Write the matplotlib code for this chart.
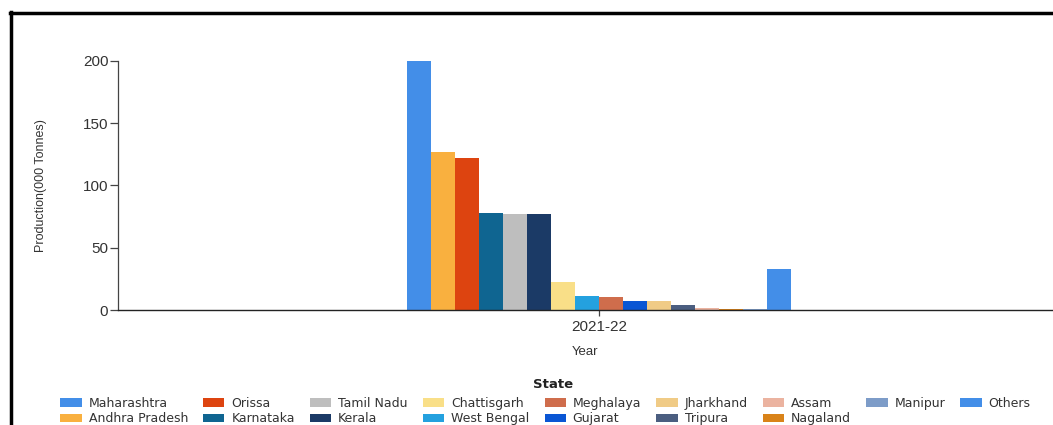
import matplotlib.pyplot as plt
from matplotlib.lines import Line2D
import numpy as np

year = "2021-22"
states = ["Maharashtra", "Andhra Pradesh", "Orissa", "Karnataka", "Tamil Nadu",
          "Kerala", "Chattisgarh", "West Bengal", "Meghalaya", "Gujarat",
          "Jharkhand", "Tripura", "Assam", "Nagaland", "Manipur", "Others"]
production = [200, 127, 122, 78, 77, 77, 22.5, 11.5, 10.5, 7.2, 7, 4,
              1.5, 1, 0.6, 33]
colors = ["#438ee8", "#f9b03f", "#dd4410", "#0f6591", "#bebebe", "#1b3a66",
          "#f9df88", "#24a1df", "#cf6d4c", "#0a56d4", "#f0cb86", "#4b5e80",
          "#ebb3a0", "#d98319", "#7d9cc8", "#438ee8"]

fig = plt.figure(figsize=(10.53, 4.25), dpi=100)
ax = fig.add_axes([118 / 1053, 1 - 310 / 425, 1 - 118 / 1053, (310 - 61) / 425])

w = 1.0
n = len(states)
for i, (s, v, c) in enumerate(zip(states, production, colors)):
    ax.bar((i - (n - 1) / 2) * w, v, width=w, color=c, label=s, clip_on=False)

ax.set_ylim(0, 200)
ax.set_xlim(-(599 - 118) / 24, (1053 - 599) / 24)
ax.set_yticks([0, 50, 100, 150, 200])
ax.set_xticks([0])
ax.set_xticklabels([year])

for sp in ["top", "right"]:
    ax.spines[sp].set_visible(False)
ax.spines["left"].set_color("#444444")
ax.spines["bottom"].set_color("#222222")
ax.spines["left"].set_linewidth(0.9)
ax.spines["bottom"].set_linewidth(1.0)
ax.tick_params(axis="y", length=6, width=0.9, color="#444444", labelsize=11,
               labelcolor="#333333", pad=1)
ax.tick_params(axis="x", length=4, width=0.9, color="#444444", labelsize=11,
               labelcolor="#333333", pad=3)
for t in ax.get_xticklabels() + ax.get_yticklabels():
    t.set_family("Liberation Sans")

ax.set_xlabel("Year", fontsize=9.5, color="#333333", family="Liberation Sans",
              labelpad=9)
ax.set_ylabel("Production(000 Tonnes)", fontsize=9, color="#333333",
              family="Liberation Sans", labelpad=26)

fig.text(0.525, 1 - 384 / 425, "State", fontsize=9.5, weight="bold",
         color="#222222", ha="center", va="center")
leg = fig.legend(loc="upper center", bbox_to_anchor=(0.518, 1 - 397 / 425),
                 ncol=9, frameon=False, fontsize=9,
                 handlelength=1.7, handleheight=0.7, handletextpad=0.55,
                 columnspacing=1.22, labelspacing=0.18, borderaxespad=0,
                 borderpad=0)
for t in leg.get_texts():
    t.set_color("#333333")

# outer frame of the screenshot
fig.add_artist(Line2D([11 / 1053, 11 / 1053], [0, 1 - 12 / 425],
                      transform=fig.transFigure, color="black", lw=2.5))
fig.add_artist(Line2D([10 / 1053, 1], [1 - 13 / 425, 1 - 13 / 425],
                      transform=fig.transFigure, color="black", lw=2.5))

fig.savefig("out.png", dpi=100)
